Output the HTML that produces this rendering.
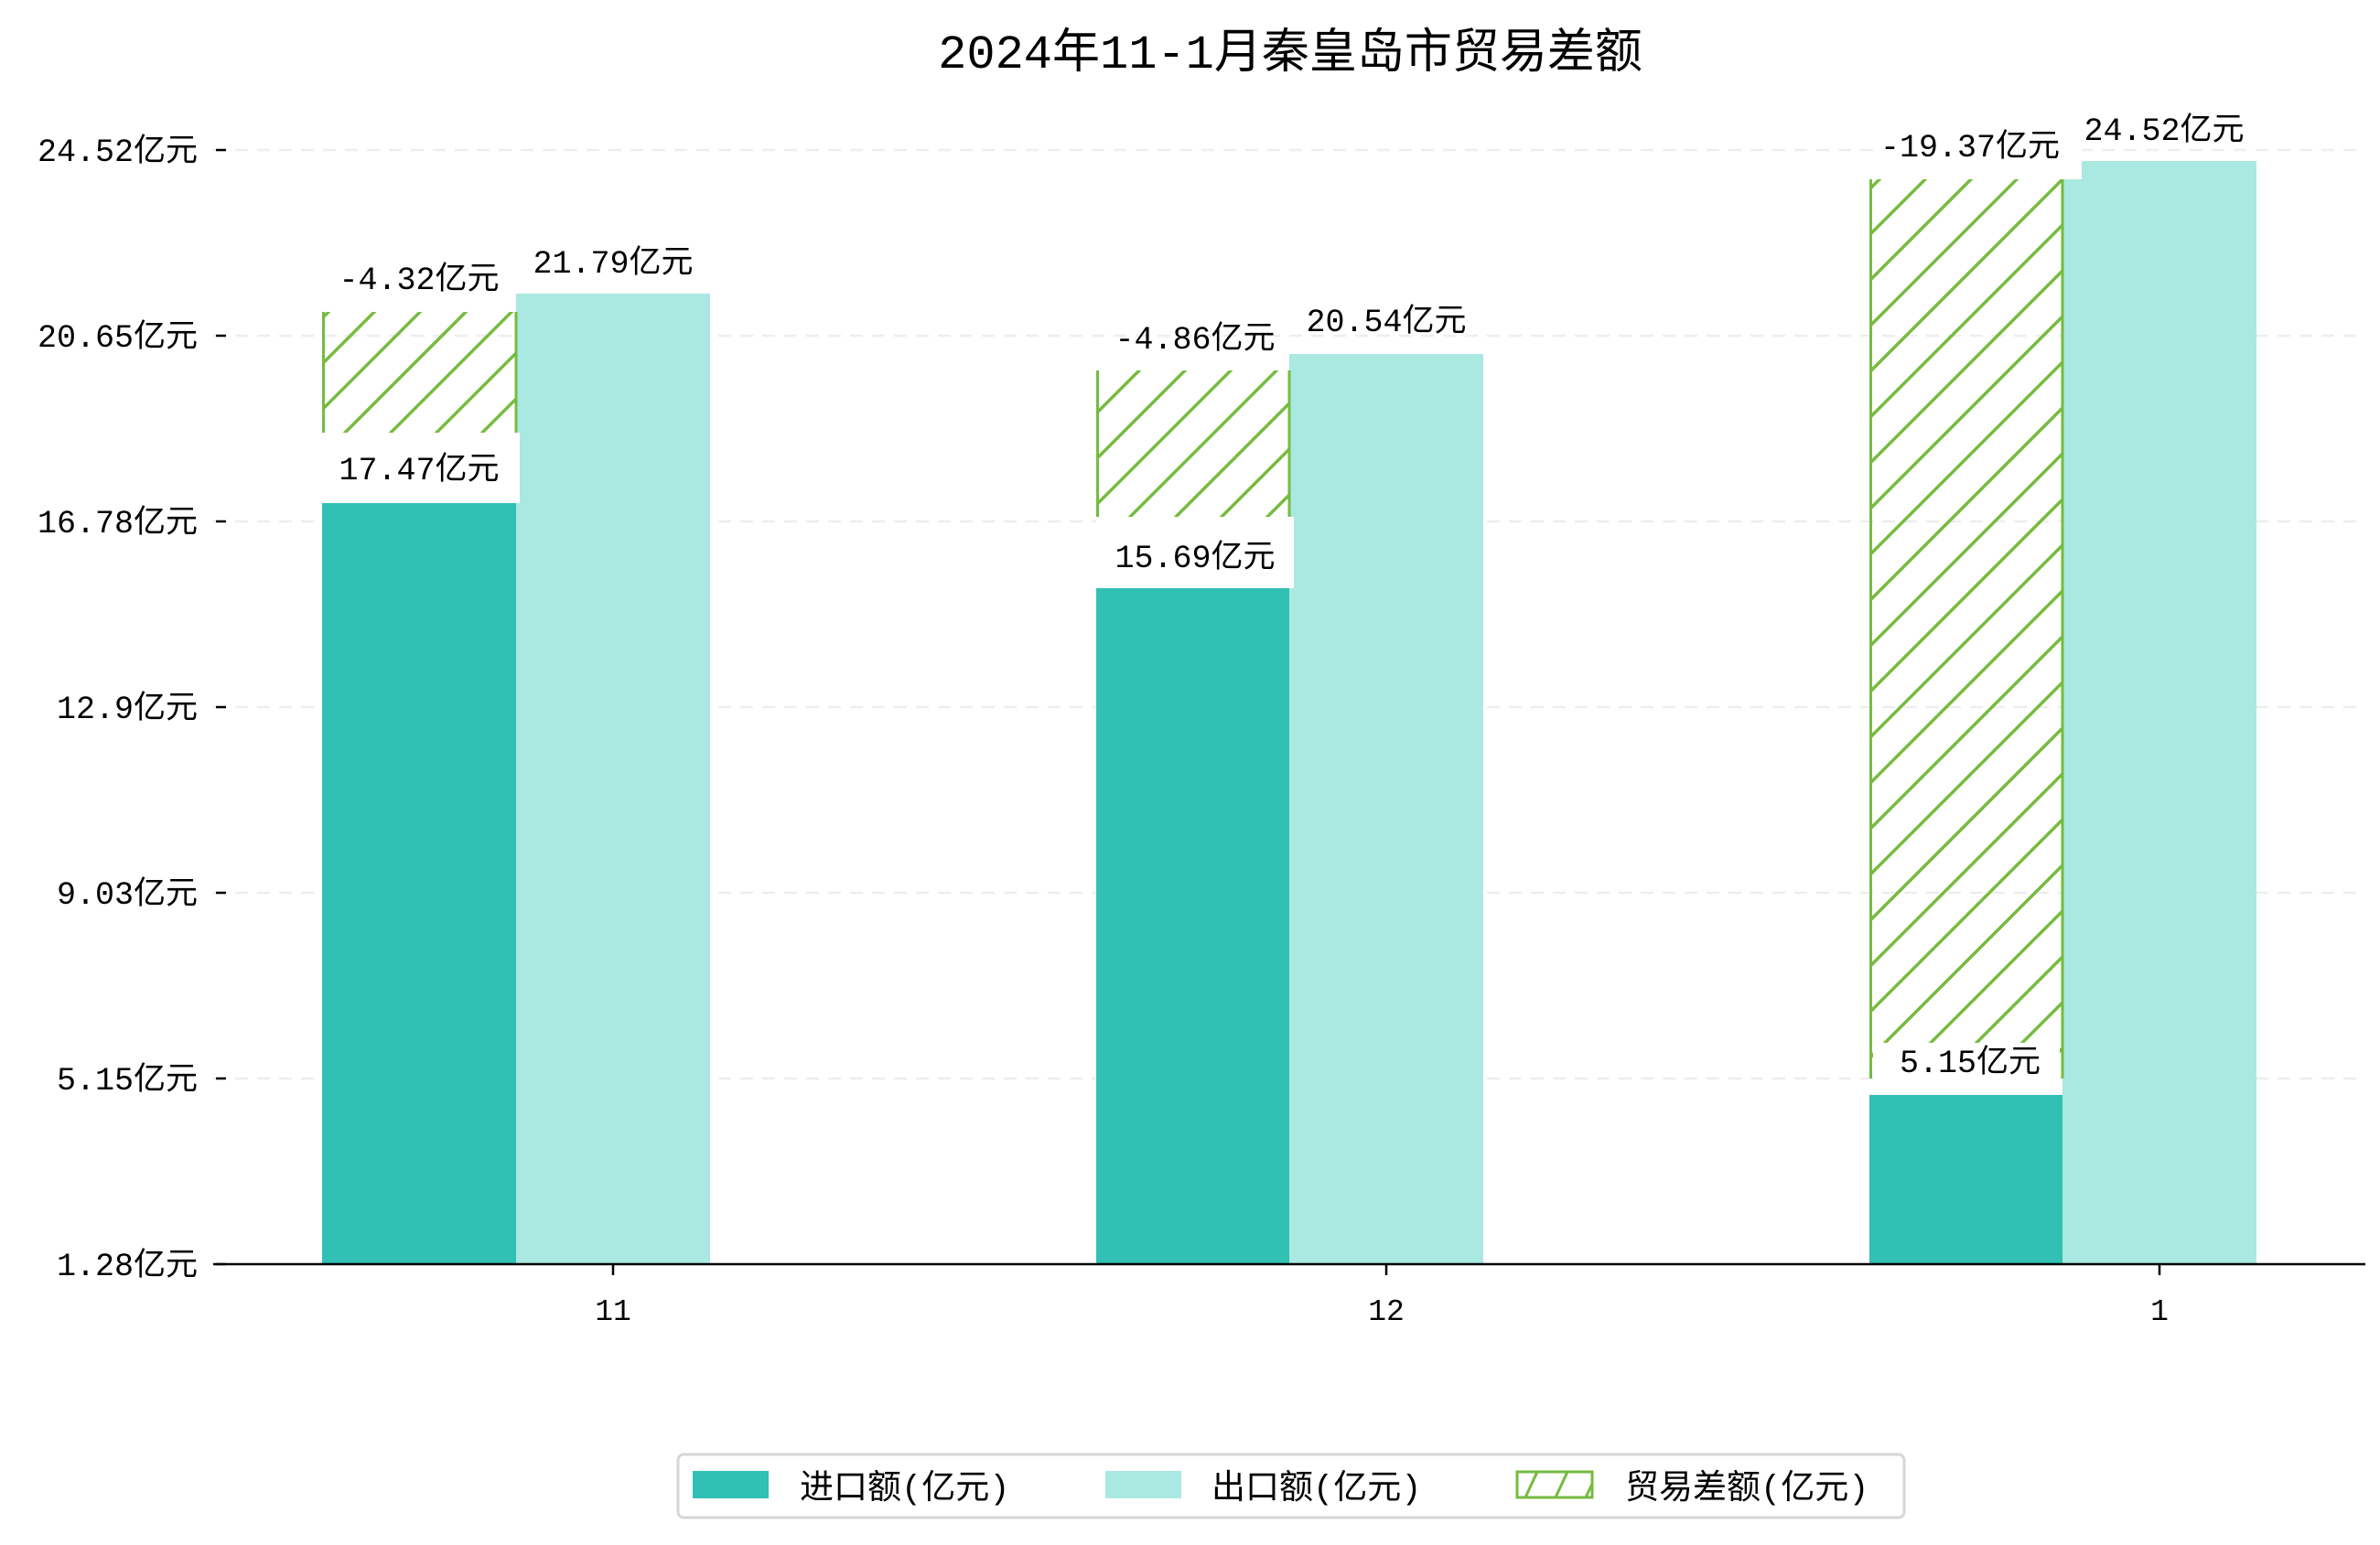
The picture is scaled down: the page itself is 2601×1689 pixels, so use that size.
<!DOCTYPE html>
<html><head><meta charset="utf-8"><style>
html,body{margin:0;padding:0;background:#fff;}
svg{display:block;}
text{font-family:"Liberation Mono","WenQuanYi Zen Hei","Noto Sans CJK SC",monospace;fill:#000;}
</style></head><body>
<svg width="2601" height="1689" viewBox="0 0 2601 1689" xmlns="http://www.w3.org/2000/svg">
<defs>
<pattern id="h" patternUnits="userSpaceOnUse" width="50" height="50">
<path d="M-5,55 L55,-5 M-5,5 L5,-5 M45,55 L55,45" stroke="#76bb40" stroke-width="3.5"/>
</pattern>
</defs>
<text x="1410" y="74" font-size="52" text-anchor="middle">2024年11-1月秦皇岛市贸易差额</text>
<g stroke="#eeeeee" stroke-width="2.5" stroke-dasharray="14,10">
<line x1="233" y1="164" x2="2585" y2="164"/><line x1="233" y1="367" x2="2585" y2="367"/>
<line x1="233" y1="570" x2="2585" y2="570"/><line x1="233" y1="773" x2="2585" y2="773"/>
<line x1="233" y1="976" x2="2585" y2="976"/><line x1="233" y1="1179" x2="2585" y2="1179"/>
</g>
<g font-size="35" text-anchor="end">
<text x="216" y="176">24.52亿元</text><text x="216" y="379">20.65亿元</text>
<text x="216" y="582">16.78亿元</text><text x="216" y="785">12.9亿元</text>
<text x="216" y="988">9.03亿元</text><text x="216" y="1191">5.15亿元</text>
<text x="216" y="1394">1.28亿元</text>
</g>
<g stroke="#000" stroke-width="2.5">
<line x1="236" y1="164" x2="247" y2="164"/><line x1="236" y1="367" x2="247" y2="367"/>
<line x1="236" y1="570" x2="247" y2="570"/><line x1="236" y1="773" x2="247" y2="773"/>
<line x1="236" y1="976" x2="247" y2="976"/><line x1="236" y1="1179" x2="247" y2="1179"/>
<line x1="236" y1="1382" x2="247" y2="1382"/>
</g>
<!-- group 11 -->
<rect x="352" y="550" width="212" height="832" fill="#31c0b4"/>
<rect x="564" y="321" width="212" height="1061" fill="#aae8e2"/>
<rect x="352" y="341" width="212" height="132" fill="url(#h)"/>
<line x1="353.5" y1="341" x2="353.5" y2="473" stroke="#76bb40" stroke-width="3"/>
<line x1="564" y1="341" x2="564" y2="473" stroke="#76bb40" stroke-width="3"/>
<rect x="352" y="473" width="216" height="77" fill="#fff"/>
<!-- group 12 -->
<rect x="1198" y="643" width="211" height="739" fill="#31c0b4"/>
<rect x="1409" y="387" width="212" height="995" fill="#aae8e2"/>
<rect x="1198" y="405" width="211" height="160" fill="url(#h)"/>
<line x1="1199.5" y1="405" x2="1199.5" y2="565" stroke="#76bb40" stroke-width="3"/>
<line x1="1409" y1="405" x2="1409" y2="565" stroke="#76bb40" stroke-width="3"/>
<rect x="1198" y="565" width="216" height="78" fill="#fff"/>
<!-- group 1 -->
<rect x="2043" y="1197" width="211" height="185" fill="#31c0b4"/>
<rect x="2254" y="176" width="212" height="1206" fill="#aae8e2"/>
<rect x="2047" y="128" width="228" height="68" fill="#fff"/>
<rect x="2043" y="196" width="211" height="983" fill="url(#h)"/>
<line x1="2044.5" y1="196" x2="2044.5" y2="1179" stroke="#76bb40" stroke-width="3"/>
<line x1="2254" y1="196" x2="2254" y2="1179" stroke="#76bb40" stroke-width="3"/>
<rect x="2047" y="1140" width="204" height="57" fill="#fff"/>
<!-- value labels -->
<g font-size="35" text-anchor="middle">
<text x="458" y="316">-4.32亿元</text><text x="458" y="524">17.47亿元</text><text x="670" y="298">21.79亿元</text>
<text x="1306" y="381">-4.86亿元</text><text x="1306" y="620">15.69亿元</text><text x="1515" y="362">20.54亿元</text>
<text x="2153" y="171">-19.37亿元</text><text x="2153" y="1172">5.15亿元</text><text x="2365" y="153">24.52亿元</text>
</g>
<!-- x axis -->
<line x1="233" y1="1382" x2="2585" y2="1382" stroke="#000" stroke-width="2.5"/>
<g stroke="#000" stroke-width="2.5">
<line x1="670" y1="1382" x2="670" y2="1394"/><line x1="1515" y1="1382" x2="1515" y2="1394"/><line x1="2360" y1="1382" x2="2360" y2="1394"/>
</g>
<g font-size="33" text-anchor="middle">
<text x="670" y="1443">11</text><text x="1515" y="1443">12</text><text x="2360" y="1443">1</text>
</g>
<!-- legend -->
<rect x="741" y="1590" width="1340" height="69" rx="6" fill="#fff" stroke="#d6d6d6" stroke-width="3"/>
<rect x="757" y="1608" width="83" height="30" fill="#31c0b4"/>
<rect x="1208" y="1608" width="83" height="30" fill="#aae8e2"/>
<rect x="1658" y="1609" width="82" height="28" fill="#fff" stroke="#76bb40" stroke-width="3"/>
<path d="M1667,1637 L1680,1609 M1700,1637 L1713,1609 M1733,1637 L1740,1622" stroke="#76bb40" stroke-width="3"/>
<g font-size="37">
<text x="874" y="1638">进口额(亿元)</text>
<text x="1324" y="1638">出口额(亿元)</text>
<text x="1776" y="1638">贸易差额(亿元)</text>
</g>
</svg>
</body></html>
